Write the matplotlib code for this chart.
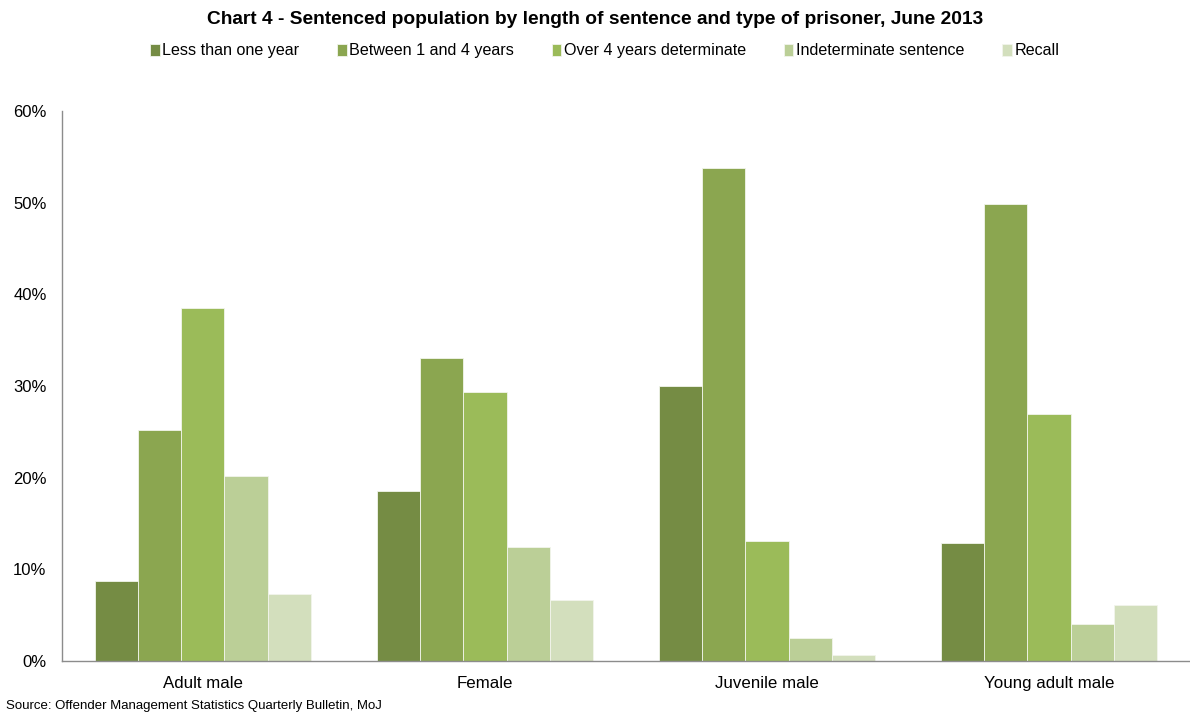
import numpy as np
import matplotlib.pyplot as plt

plt.rcParams['font.family'] = ['Liberation Sans', 'DejaVu Sans']

# sentenced population shares (%), June 2013
groups = ['Adult male', 'Female', 'Juvenile male', 'Young adult male']
series = ['Less than one year', 'Between 1 and 4 years', 'Over 4 years determinate',
          'Indeterminate sentence', 'Recall']
less_than_one = [8.7, 18.5, 30.0, 12.9]
one_to_four = [25.2, 33.0, 53.8, 49.9]
over_four = [38.5, 29.3, 13.1, 26.9]
indeterminate = [20.2, 12.4, 2.5, 4.0]
recall = [7.3, 6.6, 0.6, 6.1]
values = [less_than_one, one_to_four, over_four, indeterminate, recall]
colors = ['#758c44', '#8ba650', '#9bbb59', '#bbcf97', '#d3dfbd']

fig = plt.figure(figsize=(11.9, 7.16), dpi=100)
ax = fig.add_axes([0.052, 0.077, 0.948, 0.768])

x = np.arange(len(groups))
w = 0.153
for i, (name, vals) in enumerate(zip(series, values)):
    ax.bar(x + (i - 2) * w, vals, w, color=colors[i], label=name,
           edgecolor='#f2f5ec', linewidth=0.6)

ax.set_xlim(-0.5, 3.5)
ax.set_ylim(0, 60)
ax.set_yticks(range(0, 61, 10))
ax.set_yticklabels([f'{t}%' for t in range(0, 61, 10)])
ax.set_xticks(x)
ax.set_xticklabels(groups, fontsize=12.2)
ax.tick_params(axis='y', length=0, labelsize=12, colors='black', pad=11)
ax.tick_params(axis='x', length=0, colors='black', pad=11)
for s in ['top', 'right']:
    ax.spines[s].set_visible(False)
for s in ['left', 'bottom']:
    ax.spines[s].set_color('#8c8c8c')
    ax.spines[s].set_linewidth(1)

fig.text(0.5, 0.973, 'Chart 4 - Sentenced population by length of sentence and type of prisoner, June 2013',
         ha='center', va='center', fontsize=13.8, fontweight='bold')
fig.legend(loc='center', bbox_to_anchor=(0.508, 0.929), ncol=5, frameon=False, fontsize=11.6,
           handlelength=0.6, handleheight=0.75, handletextpad=0.15, columnspacing=2.35)
fig.text(0.005, 0.014, 'Source: Offender Management Statistics Quarterly Bulletin, MoJ',
         ha='left', va='center', fontsize=9.5)

fig.savefig('out.png', dpi=100)
